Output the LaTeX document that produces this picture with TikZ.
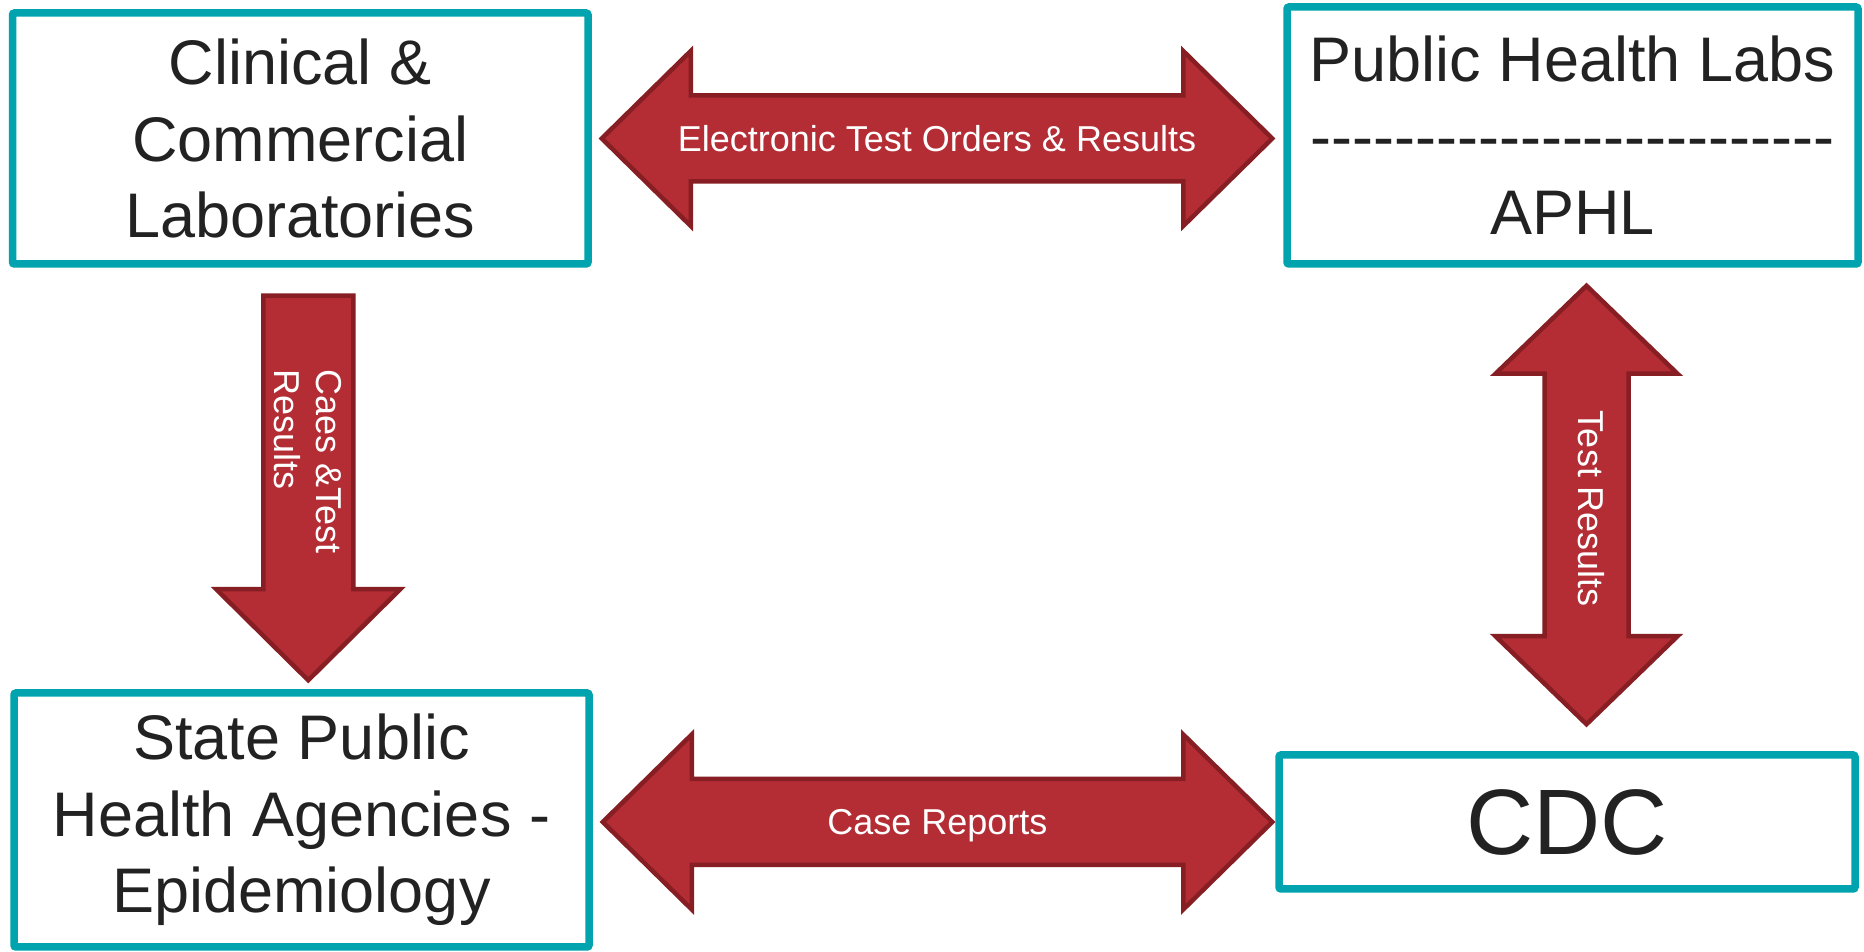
\documentclass[tikz,border=0pt]{standalone}
\usepackage{fontspec}
\setmainfont{Liberation Sans}
\usetikzlibrary{calc}

\begin{document}
\begin{tikzpicture}[x=1pt,y=1pt,
  box/.style={draw=boxColor,line width=7.5pt,fill=white,rounded corners=2pt,
    text=textColor,align=center,inner sep=0pt,
    font=\fontsize{63}{76.5}\selectfont},
  blockarrow/.style={draw=edgeColor,fill=arrowColor,line width=4.5pt,line join=miter},
  arrowtext/.style={text=white,inner sep=0pt,font=\fontsize{36}{42}\selectfont},
  flat/.style={text height=26pt,text depth=0pt}]
\definecolor{boxColor}{RGB}{0,163,174}
\definecolor{textColor}{RGB}{34,34,34}
\definecolor{arrowColor}{RGB}{180,45,53}
\definecolor{edgeColor}{RGB}{134,30,35}
\path[use as bounding box,fill=white] (0,0) rectangle (1864,952);

\node[box,minimum width=575.5pt,minimum height=251pt] (clin) at (300.25,813.5) {Clinical \&\\Commercial\\Laboratories};

\node[box,minimum width=571pt,minimum height=257pt] (phl) at (1572.5,816.5) {Public Health Labs\\-{}-{}-{}-{}-{}-{}-{}-{}-{}-{}-{}-{}-{}-{}-{}-{}-{}-{}-{}-{}-{}-{}-{}-{}-\\APHL};

\node[box,minimum width=575pt,minimum height=254pt] (state) at (301.5,132) {State Public\\Health Agencies -\\Epidemiology};

\node[box,minimum width=576pt,minimum height=134pt,font=\fontsize{93}{110}\selectfont] (cdc) at (1567,130) {CDC};

\coordinate (ordW) at ($(clin.east)+(10,0)$);
\coordinate (ordE) at ($(ordW -| phl.west)+(-11,0)$);
\coordinate (repW) at ($(cdc.west -| state.east)+(10,0)$);
\coordinate (repE) at ($(cdc.west)+(-3,0)$);
\coordinate (dnTop) at ($(clin.south)+(8,-28)$);
\coordinate (dnTip) at ($(dnTop |- state.north)+(0,9)$);
\coordinate (resTop) at ($(phl.south)+(14,-18)$);
\coordinate (resBot) at ($(resTop |- cdc.north)+(0,27)$);

\path[blockarrow] let \p1=(ordW), \p2=(ordE) in
  (\x1,\y1) -- (\x1+89pt,\y1+87.5pt) -- (\x1+89pt,\y1+43pt) -- (\x2-89pt,\y1+43pt)
  -- (\x2-89pt,\y1+87.5pt) -- (\x2,\y1) -- (\x2-89pt,\y1-87.5pt) -- (\x2-89pt,\y1-43pt)
  -- (\x1+89pt,\y1-43pt) -- (\x1+89pt,\y1-87.5pt) -- cycle;

\path[blockarrow] let \p1=(repW), \p2=(repE) in
  (\x1,\y1) -- (\x1+89pt,\y1+87.5pt) -- (\x1+89pt,\y1+43pt) -- (\x2-89pt,\y1+43pt)
  -- (\x2-89pt,\y1+87.5pt) -- (\x2,\y1) -- (\x2-89pt,\y1-87.5pt) -- (\x2-89pt,\y1-43pt)
  -- (\x1+89pt,\y1-43pt) -- (\x1+89pt,\y1-87.5pt) -- cycle;

\path[blockarrow] let \p1=(dnTop), \p2=(dnTip) in
  (\x1-45pt,\y1) -- (\x1+45pt,\y1) -- (\x1+45pt,\y2+91pt) -- (\x1+92pt,\y2+91pt)
  -- (\x1,\y2) -- (\x1-92pt,\y2+91pt) -- (\x1-45pt,\y2+91pt) -- cycle;

\path[blockarrow] let \p1=(resTop), \p2=(resBot) in
  (\x1,\y1) -- (\x1+91pt,\y1-88pt) -- (\x1+42pt,\y1-88pt) -- (\x1+42pt,\y2+88pt)
  -- (\x1+91pt,\y2+88pt) -- (\x1,\y2) -- (\x1-91pt,\y2+88pt) -- (\x1-42pt,\y2+88pt)
  -- (\x1-42pt,\y1-88pt) -- (\x1-91pt,\y1-88pt) -- cycle;

\node[arrowtext,flat] (ordTxt) at ($(ordW)!0.5!(ordE)$) {Electronic Test Orders \& Results};

\node[arrowtext,flat] (repTxt) at ($(repW)!0.5!(repE)$) {Case Reports};

\node[arrowtext,flat,rotate=-90] (resTxt) at ($(resTop)!0.5!(resBot)+(5,-4)$) {Test Results};

\node[arrowtext,rotate=-90,align=left,anchor=west] (dnTxt) at ($(clin.south)+(8,-102)$) {Caes \&Test\\Results};
\end{tikzpicture}
\end{document}
